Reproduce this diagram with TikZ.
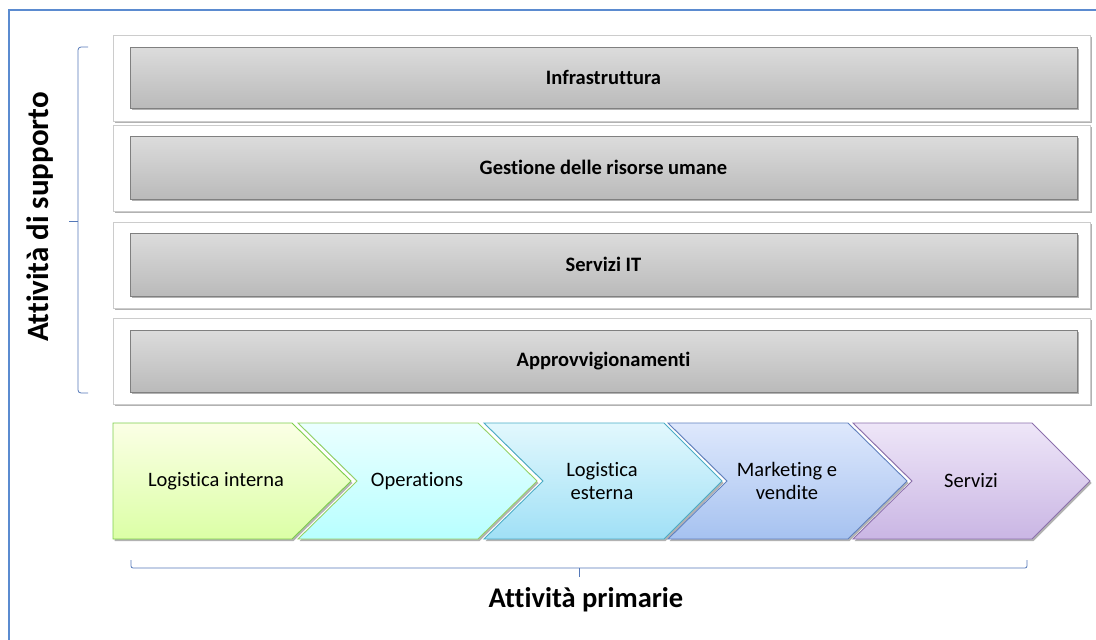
\documentclass[tikz,border=0pt]{standalone}
\usepackage{fontspec}
\setmainfont[Ligatures=NoCommon]{Carlito}
\pgfdeclarelayer{nodelayer}
\pgfdeclarelayer{edgelayer}
\pgfsetlayers{edgelayer,nodelayer,main}
\definecolor{frameblue}{HTML}{5B8BD0}
\definecolor{bracketblue}{HTML}{5478B8}
\definecolor{boxtop}{HTML}{DCDCDC}
\definecolor{boxbottom}{HTML}{BABABA}
\tikzstyle{shade below}=[preaction={fill=black, opacity=0.3, transform canvas={xshift=1.5pt, yshift=-2pt}}]
\tikzstyle{panel}=[draw=black!20, fill=white, inner sep=0pt, minimum width=977pt, minimum height=86pt, style=shade below]
\tikzstyle{bar}=[draw=black!50, line width=0.9pt, top color=boxtop, bottom color=boxbottom, inner sep=0pt, minimum width=947pt, font=\fontsize{20.5}{24}\selectfont\bfseries, style=shade below]
\tikzstyle{chevron}=[line width=0.9pt, style=shade below]
\tikzstyle{step label}=[align=center, font=\fontsize{20.5}{23.5}\selectfont]
\tikzstyle{title}=[font=\fontsize{28.5}{32}\selectfont\bfseries]
\tikzstyle{bracket}=[draw=bracketblue, line width=0.8pt]

\begin{document}
\begin{tikzpicture}[x=1pt, y=-1pt]
    \useasboundingbox (0,0) rectangle (1096,640);
    \draw [frameblue, line width=1.3pt] (9,10) rectangle (1120,660);
    	\begin{pgfonlayer}{edgelayer}
    		\node [style=panel] (0) at (601.5, 78) {};
    		\node [style=panel] (1) at (601.5, 168) {};
    		\node [style=panel] (2) at (601.5, 265) {};
    		\node [style=panel] (3) at (601.5, 361) {};
    	\end{pgfonlayer}
    	\begin{pgfonlayer}{nodelayer}
    		\node [style=bar, minimum height=61pt] (4) at (603.5, 77.5) {Infrastruttura};
    		\node [style=bar, minimum height=63pt] (5) at (603.5, 167.5) {Gestione delle risorse umane};
    		\node [style=bar, minimum height=63pt] (6) at (603.5, 264.5) {Servizi IT};
    		\node [style=bar, minimum height=62pt] (7) at (603.5, 361) {Approvvigionamenti};
    	\end{pgfonlayer}
    	% catena del valore
    	\draw [style=chevron, draw=green!45!olive!70, top color=green!15!yellow!10, bottom color=green!40!yellow!35] (113,423) -- (292,423) -- (351,481) -- (292,539) -- (113,539) -- cycle;
    	\draw [style=chevron, draw=green!40!olive!60, top color=cyan!8, bottom color=cyan!28] (298,423) -- (478,423) -- (537,481) -- (478,539) -- (298,539) -- (357,481) -- cycle;
    	\draw [style=chevron, draw={rgb,255:red,75;green,172;blue,198}, top color={rgb,255:red,226;green,248;blue,253}, bottom color={rgb,255:red,160;green,224;blue,246}] (484,423) -- (664,423) -- (722,481) -- (664,539) -- (484,539) -- (543,481) -- cycle;
    	\draw [style=chevron, draw={rgb,255:red,96;green,128;blue,190}, top color={rgb,255:red,222;green,232;blue,252}, bottom color={rgb,255:red,166;green,194;blue,240}] (668,423) -- (848,423) -- (907,481) -- (848,539) -- (668,539) -- (727,481) -- cycle;
    	\draw [style=chevron, draw={rgb,255:red,140;green,112;blue,172}, top color={rgb,255:red,238;green,230;blue,248}, bottom color={rgb,255:red,202;green,182;blue,228}] (853,423) -- (1032,423) -- (1090,481) -- (1032,539) -- (853,539) -- (912,481) -- cycle;
    	\node [style=step label] (8) at (216, 481) {Logistica interna};
    	\node [style=step label] (9) at (417, 481) {Operations};
    	\node [style=step label] (10) at (602, 481) {Logistica\\esterna};
    	\node [style=step label] (11) at (787, 481) {Marketing e\\vendite};
    	\node [style=step label] (12) at (971, 481) {Servizi};
    	% parentesi
    	\draw [style=bracket, rounded corners=3pt] (88,47) -- (78,47) -- (78,393) -- (88,393);
    	\draw [style=bracket] (78,221) -- (69,221);
    	\draw [style=bracket, rounded corners=2pt] (131,560) -- (131,568) -- (1027,568) -- (1027,560);
    	\draw [style=bracket] (579,568) -- (579,577);
    	\node [style=title, font=\fontsize{31}{34}\selectfont\bfseries, rotate=90] (13) at (40,217) {Attività di supporto};
    	\node [style=title] (14) at (586,600) {Attività primarie};
\end{tikzpicture}
\end{document}
